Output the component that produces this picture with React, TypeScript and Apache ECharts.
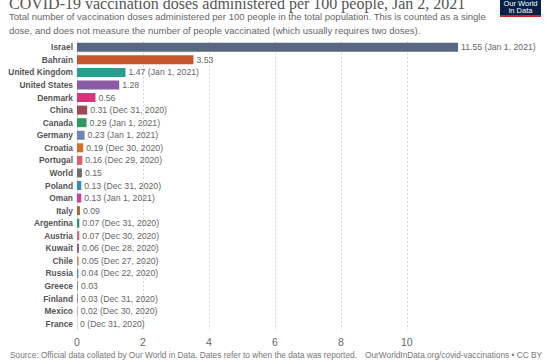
import React, { useEffect, useRef } from "react";
import * as echarts from "echarts";

const countries = [
  "Israel", "Bahrain", "United Kingdom", "United States", "Denmark", "China", "Canada", "Germany",
  "Croatia", "Portugal", "World", "Poland", "Oman", "Italy", "Argentina", "Austria", "Kuwait",
  "Chile", "Russia", "Greece", "Finland", "Mexico", "France",
];
const doses = [
  11.55, 3.53, 1.47, 1.28, 0.56, 0.31, 0.29, 0.23, 0.19, 0.16, 0.15, 0.13, 0.13, 0.09, 0.07, 0.07,
  0.06, 0.05, 0.04, 0.03, 0.03, 0.02, 0,
];
const dates = [
  "Jan 1, 2021", "", "Jan 1, 2021", "", "", "Dec 31, 2020", "Jan 1, 2021", "Jan 1, 2021",
  "Dec 30, 2020", "Dec 29, 2020", "", "Dec 31, 2020", "Jan 1, 2021", "", "Dec 31, 2020",
  "Dec 30, 2020", "Dec 28, 2020", "Dec 27, 2020", "Dec 22, 2020", "", "Dec 31, 2020",
  "Dec 30, 2020", "Dec 31, 2020",
];
const colors = [
  "#5a6780", "#c4562e", "#2a9d8f", "#8a5ca8", "#d8347e", "#9c4a55", "#2f9a5c", "#6b84b5",
  "#d4712f", "#e05a70", "#6e6e72", "#3a88b8", "#d63c9c", "#a8683a", "#2a9a72", "#d66a7e",
  "#9b5a8a", "#d98c45", "#5b88b0", "#6aa06a", "#b07cc0", "#e28a8e", "#999999",
];
const xTicks = [0, 2, 4, 6, 8, 10];

const title = "COVID-19 vaccination doses administered per 100 people, Jan 2, 2021";
const subtitle1 =
  "Total number of vaccination doses administered per 100 people in the total population. This is counted as a single";
const subtitle2 =
  "dose, and does not measure the number of people vaccinated (which usually requires two doses).";
const sourceText =
  "Source: Official data collated by Our World in Data. Dates refer to when the data was reported.";
const urlText = "OurWorldInData.org/covid-vaccinations • CC BY";

export default function App() {
  const ref = useRef<HTMLDivElement>(null);
  useEffect(() => {
    if (!ref.current) return;
    const chart = echarts.init(ref.current, undefined, { renderer: "svg" });
    const sans = "'Liberation Sans', Arial, sans-serif";
    chart.setOption({
      animation: false,
      backgroundColor: "#ffffff",
      grid: { left: 77, right: 92, top: 41, bottom: 30, containLabel: false },
      xAxis: {
        type: "value",
        min: 0,
        max: 11.55,
        interval: 2,
        axisLine: { show: false },
        axisTick: { show: false },
        axisLabel: {
          fontFamily: sans,
          fontSize: 10.5,
          color: "#666",
          margin: 6,
          showMaxLabel: false,
          formatter: (v: number) => (xTicks.includes(v) ? String(v) : ""),
        },
        splitLine: {
          show: true,
          showMinLine: false,
          showMaxLine: false,
          lineStyle: { color: "#d9d9d9", type: [2, 2], width: 1 },
        },
      },
      yAxis: {
        type: "category",
        inverse: true,
        data: countries,
        axisLine: { show: true, lineStyle: { color: "#dddddd", width: 1 } },
        axisTick: { show: false },
        axisLabel: {
          fontFamily: sans,
          fontSize: 8.4,
          fontWeight: "bold",
          color: "#555",
          margin: 4,
        },
      },
      series: [
        {
          type: "bar",
          data: doses.map((v, i) => ({ value: v, itemStyle: { color: colors[i] } })),
          barWidth: 9,
          label: {
            show: true,
            position: "right",
            distance: 3,
            fontFamily: sans,
            fontSize: 8.7,
            color: "#666",
            formatter: (p: any) => {
              const d = dates[p.dataIndex];
              return d ? `${p.value} (${d})` : `${p.value}`;
            },
          },
        },
      ],
      graphic: [
        {
          type: "text",
          x: 9,
          y: 3,
          style: {
            text: title,
            font: "16px 'Liberation Serif', 'Times New Roman', serif",
            fill: "#555",
            verticalAlign: "middle",
          },
        },
        {
          type: "text",
          x: 9,
          y: 16.5,
          style: { text: subtitle1, font: `9.5px ${sans}`, fill: "#666", verticalAlign: "middle" },
        },
        {
          type: "text",
          x: 9,
          y: 30,
          style: { text: subtitle2, font: `9.5px ${sans}`, fill: "#666", verticalAlign: "middle" },
        },
        {
          type: "text",
          x: 10,
          y: 355,
          style: { text: sourceText, font: `8.3px ${sans}`, fill: "#777", verticalAlign: "middle" },
        },
        {
          type: "text",
          x: 365,
          y: 355,
          style: { text: urlText, font: `8.3px ${sans}`, fill: "#777", verticalAlign: "middle" },
        },
        {
          type: "rect",
          shape: { x: 500, y: -5, width: 41, height: 20 },
          style: { fill: "#002147" },
        },
        {
          type: "rect",
          shape: { x: 500, y: 15, width: 41, height: 2 },
          style: { fill: "#ce261e" },
        },
        {
          type: "text",
          x: 520.5,
          y: 3,
          style: {
            text: "Our World",
            font: `7.5px ${sans}`,
            fill: "#fff",
            align: "center",
            verticalAlign: "middle",
          },
        },
        {
          type: "text",
          x: 520.5,
          y: 10.5,
          style: {
            text: "in Data",
            font: `7.5px ${sans}`,
            fill: "#fff",
            align: "center",
            verticalAlign: "middle",
          },
        },
      ],
    });
    return () => chart.dispose();
  }, []);
  return (
    <div
      ref={ref}
      style={{ position: "absolute", left: 0, top: 0, width: 550, height: 360 }}
    />
  );
}
